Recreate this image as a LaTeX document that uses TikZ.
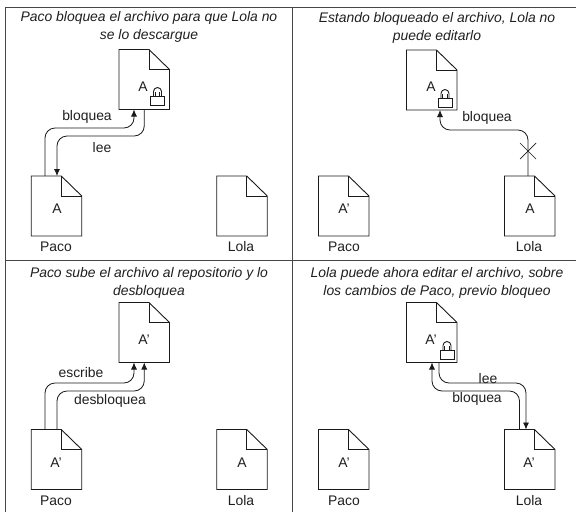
\documentclass[tikz,border=0pt]{standalone}
\usepackage{fontspec}
\setmainfont{Liberation Sans}
\usetikzlibrary{arrows.meta}
\definecolor{ink}{HTML}{1A1A1A}
\tikzset{
  x=1pt,y=-1pt,
  docbox/.style={minimum width=50.5pt,minimum height=60pt,inner sep=0pt,outer sep=0pt},
  docline/.style={draw=ink,line width=0.9pt,fill=white,line join=miter},
  foldline/.style={draw=ink,line width=0.9pt},
  panel/.style={draw=black!72,line width=1pt},
  conn/.style={draw=ink,line width=0.8pt,rounded corners=10pt},
  head/.style={-{Latex[length=7pt,width=6pt]}},
  txt/.style={font=\fontsize{13.9}{16}\selectfont,text=black!88,inner sep=0pt},
  captxt/.style={font=\fontsize{13.9}{16}\selectfont\itshape,text=black!88,inner sep=0pt},
  lockbody/.style={draw=ink,line width=0.8pt,fill=white},
}
\newcommand{\docat}[3]{%
  \node[docbox] (#1) at (#2,#3) {};
  \path[docline] (#1.north west) -- ([xshift=-20.5pt]#1.north east) -- ([yshift=-20pt]#1.north east) -- (#1.south east) -- (#1.south west) -- cycle;
  \path[foldline] ([xshift=-20.5pt]#1.north east) -- ([xshift=-20.5pt,yshift=-20pt]#1.north east) -- ([yshift=-20pt]#1.north east);
}
\newcommand{\lockat}[2]{%
  \path[lockbody] (#1-7,#2-4.5) rectangle (#1+7,#2+4.5);
  \draw[ink,line width=0.9pt] (#1-4,#2-4.5) -- (#1-4,#2-9) arc[start angle=180,end angle=0,radius=4pt] -- (#1+4,#2-4.5);
  \draw[ink,line width=0.9pt] (#1-2.3,#2-4.5) -- (#1-2.3,#2-9);
  \draw[ink,line width=0.9pt] (#1+2.3,#2-4.5) -- (#1+2.3,#2-9);
}
\begin{document}
\begin{tikzpicture}
\useasboundingbox (0,0) rectangle (576,512);
% panel rules
\coordinate (tl) at (5.5,7);
\coordinate (tr) at (576,7);
\coordinate (bl) at (5.5,512);
\coordinate (ml) at (5.5,260);
\coordinate (mr) at (576,260);
\coordinate (mt) at (292,7);
\coordinate (mb) at (292,512);
\draw[panel] (tl) -- (tr);
\draw[panel] (tl) -- (bl);
\draw[panel] (ml) -- (mr);
\draw[panel] (mt) -- (mb);
% captions
\node[captxt] (c1a) at (149,18) {Paco bloquea el archivo para que Lola no};
\node[captxt] (c1b) at (149,36) {se lo descargue};
\node[captxt] (c2a) at (437,19) {Estando bloqueado el archivo, Lola no};
\node[captxt] (c2b) at (437,37) {puede editarlo};
\node[captxt] (c3a) at (149,274) {Paco sube el archivo al repositorio y lo};
\node[captxt] (c3b) at (149,292) {desbloquea};
\node[captxt] (c4a) at (437,274) {Lola puede ahora editar el archivo, sobre};
\node[captxt] (c4b) at (437,292) {los cambios de Paco, previo bloqueo};
% documents
\docat{r1}{144.25}{79.5}
\docat{p1}{56.5}{206}
\docat{l1}{242}{206}
\docat{r2}{431.75}{80}
\docat{p2}{343.75}{206}
\docat{l2}{529.75}{206}
\docat{r3}{144.25}{332.5}
\docat{p3}{56.5}{459.5}
\docat{l3}{242}{459.5}
\docat{r4}{431.75}{332.5}
\docat{p4}{343.75}{459.5}
\docat{l4}{529.75}{459.5}
% file letters
\node[txt] (a1) at (143,87) {A};
\node[txt] (a2) at (57,209) {A};
\node[txt] (a3) at (431,87) {A};
\node[txt] (a4) at (344,209) {A’};
\node[txt] (a5) at (530,209) {A};
\node[txt] (a6) at (144,340) {A’};
\node[txt] (a7) at (56,463) {A’};
\node[txt] (a8) at (242,463) {A};
\node[txt] (a9) at (431,340) {A’};
\node[txt] (a10) at (344,463) {A’};
\node[txt] (a11) at (529,463) {A’};
% locks
\lockat{157.5}{100.5}
\lockat{445}{102.5}
\lockat{447}{354.5}
% people
\foreach \n/\x/\y/\t in {n1/56/247/Paco,n2/241/247/Lola,n3/344/247/Paco,n4/529/247/Lola,n5/56/501/Paco,n6/241/501/Lola,n7/344/501/Paco,n8/529/501/Lola}
  \node[txt] (\n) at (\x,\y) {\t};
% connectors panel 1
\draw[conn,head] ([xshift=-11.5pt]p1.north) |- (134,128) -- ([xshift=-10.25pt]r1.south);
\draw[conn,head] (r1.south) |- (57,136) -- ([xshift=.5pt]p1.north);
\node[txt] (t1) at (87,117) {bloquea};
\node[txt] (t2) at (102,148) {lee};
% panel 2
\draw[conn,head] ([xshift=-1.75pt]l2.north) |- (440,130) -- ([xshift=8.25pt]r2.south);
\coordinate (x1) at (520,143);
\coordinate (x2) at (536,159);
\coordinate (x3) at (520,159);
\coordinate (x4) at (536,143);
\draw[ink,line width=0.7pt] (x1) -- (x2);
\draw[ink,line width=0.7pt] (x3) -- (x4);
\node[txt] (t3) at (487,118) {bloquea};
% panel 3
\draw[conn,head] ([xshift=-11.5pt]p3.north) |- (134,383) -- ([xshift=-10.25pt]r3.south);
\draw[conn,head] ([xshift=.5pt]p3.north) |- (144.25,391) -- (r3.south);
\node[txt] (t4) at (81,373) {escribe};
\node[txt] (t5) at (110,401) {desbloquea};
% panel 4
\draw[conn,head] ([xshift=-10.25pt]l4.north) |- (432,391) -- (432,362.5);
\draw[conn,head] ([xshift=7.25pt]r4.south) |- (526,383) -- ([xshift=-3.75pt]l4.north);
\node[txt] (t6) at (488,379) {lee};
\node[txt] (t7) at (477,399) {bloquea};
\end{tikzpicture}
\end{document}
